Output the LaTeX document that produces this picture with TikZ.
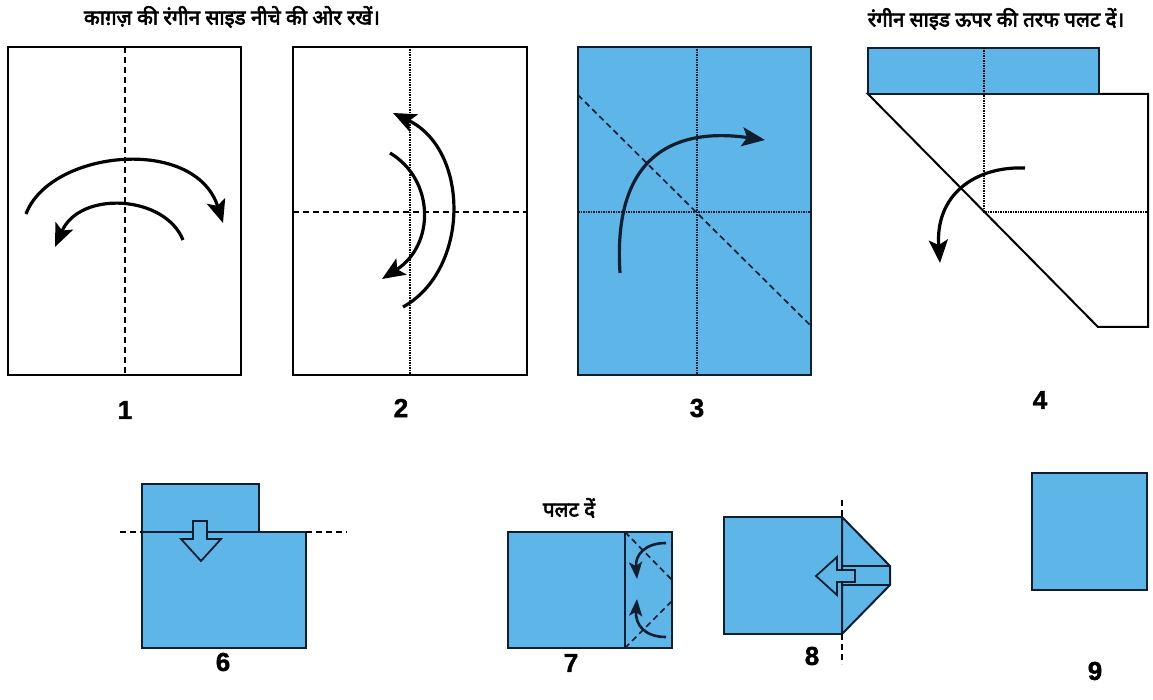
\documentclass[tikz,border=0pt]{standalone}
\usepackage{fontspec}
\setmainfont{Liberation Sans}
\newfontfamily\hindi[Script=Devanagari, FakeBold=3]{Noto Sans}
\newfontfamily\numfont[FakeBold=1.5]{Liberation Sans}
\usetikzlibrary{arrows.meta}
\definecolor{paperblue}{RGB}{94,182,232}
\definecolor{inkblue}{RGB}{16,30,48}
\tikzset{
  sheet/.style={draw=black, line width=2pt, fill=white},
  bluesheet/.style={draw=inkblue, line width=2pt, fill=paperblue},
  valley/.style={dash pattern=on 6pt off 4pt, line width=1.7pt},
  mountain/.style={densely dotted, line width=1.5pt},
  foldarrow/.style={line width=3.2pt, -{Stealth[length=23pt,width=19pt,inset=5pt]}},
  tuckarrow/.style={line width=2.6pt, -{Stealth[length=17pt,width=13pt,inset=4pt]}},
  stepno/.style={font=\numfont\bfseries\fontsize{26}{26}\selectfont},
  note/.style={font=\hindi\fontsize{20.5}{24}\selectfont},
}

\begin{document}
\begin{tikzpicture}[x=1pt, y=-1pt]
    \useasboundingbox (0,0) rectangle (1153,700);

    % Headings
    \node[note] (head1) at (232,17) {काग़ज़ की रंगीन साइड नीचे की ओर रखें।};
    \node[note] (head4) at (996,19) {रंगीन साइड ऊपर की तरफ पलट दें।};

    % Step 1
    \draw[sheet] (8,47) rectangle (241,375);
    \draw[valley] (125,47) -- (125,375);
    \draw[foldarrow] (26,214) .. controls (50,150) and (195,135) .. (223,223);
    \draw[foldarrow] (183,240) .. controls (165,195) and (80,190) .. (55,247);
    \node[stepno] (n1) at (125,410) {1};

    % Step 2
    \draw[sheet] (293,47) rectangle (527,375);
    \draw[mountain] (410,47) -- (410,375);
    \draw[valley] (293,212) -- (527,212);
    \draw[foldarrow] (403,307) .. controls (470,270) and (470,150) .. (393,113);
    \draw[foldarrow] (390,153) .. controls (435,180) and (435,245) .. (382,279);
    \node[stepno] (n2) at (401,408) {2};

    % Step 3
    \draw[bluesheet] (578,47) rectangle (811,375);
    \draw[mountain, inkblue] (697,47) -- (697,375);
    \draw[mountain, inkblue] (578,212) -- (811,212);
    \draw[valley, inkblue] (578,95) -- (811,326);
    \draw[foldarrow, inkblue] (620,273) .. controls (612,150) and (680,128) .. (765,140);
    \node[stepno] (n3) at (697,408) {3};

    % Step 4
    \draw[sheet] (868,94) -- (1148,94) -- (1148,327) -- (1098,327) -- cycle;
    \draw[bluesheet] (868,48) rectangle (1099,94);
    \draw[mountain] (984,48) -- (984,212) -- (1148,212);
    \draw[foldarrow] (1025,168) .. controls (975,166) and (935,195) .. (940,263);
    \node[stepno] (n4) at (1040,400) {4};

    % Step 6
    \draw[bluesheet] (142,484) rectangle (259,532);
    \draw[bluesheet] (142,532) rectangle (306,648);
    \draw[valley] (120,532) -- (142,532);
    \draw[valley] (306,532) -- (347,532);
    \draw[bluesheet, line width=1.8pt] (193,521) -- (207,521) -- (207,539) -- (221,539)
        -- (201,561) -- (181,539) -- (193,539) -- cycle;
    \node[stepno] (n6) at (223,662) {6};

    % Step 7
    \node[note] (flip7) at (569,508) {पलट दें};
    \draw[bluesheet] (508,532) rectangle (672,648);
    \draw[inkblue, line width=2pt] (625,532) -- (625,648);
    \draw[valley, inkblue] (625,532) -- (672,580);
    \draw[valley, inkblue] (625,648) -- (672,601);
    \draw[tuckarrow, inkblue] (666,543) .. controls (645,543) and (635,555) .. (637,579);
    \draw[tuckarrow, inkblue] (666,637) .. controls (645,637) and (635,625) .. (637,599);
    \node[stepno] (n7) at (571,663) {7};

    % Step 8
    \draw[bluesheet] (724,517) rectangle (842,634);
    \draw[bluesheet] (842,517) -- (890,566) -- (890,585) -- (842,634) -- cycle;
    \draw[inkblue, line width=2pt] (842,566) -- (890,566) (842,585) -- (890,585);
    \draw[bluesheet, line width=1.8pt] (816,576) -- (837,557) -- (837,570) -- (855,570)
        -- (855,582) -- (837,582) -- (837,595) -- cycle;
    \draw[valley] (842,500) -- (842,517);
    \draw[valley] (842,634) -- (842,664);
    \node[stepno] (n8) at (812,656) {8};

    % Step 9
    \draw[bluesheet] (1032,473) rectangle (1147,590);
    \node[stepno] (n9) at (1095,671) {9};
\end{tikzpicture}
\end{document}
